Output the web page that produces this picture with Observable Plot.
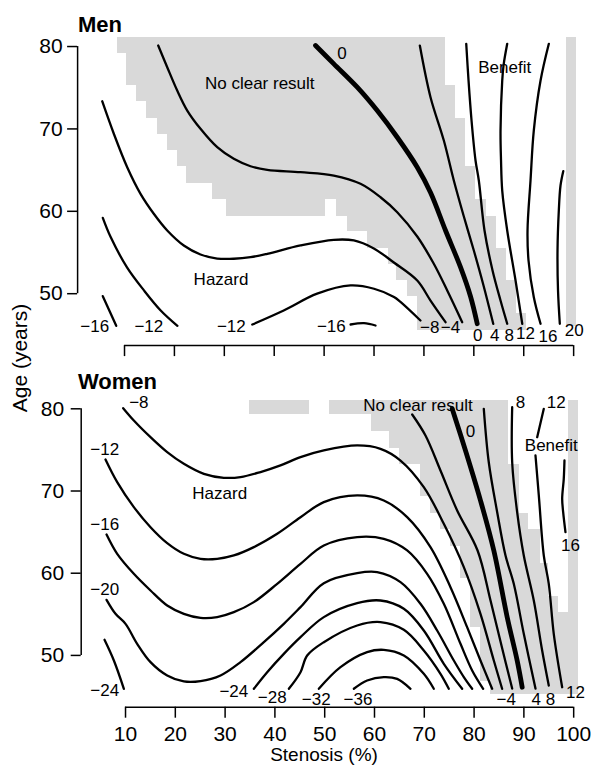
<!DOCTYPE html>
<html><head><meta charset="utf-8">
<script src="https://cdn.jsdelivr.net/npm/d3@7"></script>
<script src="https://cdn.jsdelivr.net/npm/@observablehq/plot@0.6"></script>
<style>
body{margin:0;background:#fff;}
#wrap{position:relative;width:593px;height:765px;font-family:"Liberation Sans",Arial,sans-serif;color:#000;overflow:hidden;}
#wrap svg{position:absolute;left:0;}
.t{position:absolute;white-space:nowrap;line-height:1;}
g[aria-label$="-axis tick"] path{stroke-width:1.5px;}
</style></head><body><div id="wrap"></div>
<script>
// ---------- ticks ----------
const xTicks = [10,20,30,40,50,60,70,80,90,100];
const yTicks = [50,60,70,80];

// ---------- Men: contour lines [stenosis %, age] ----------
const men_m16a = [[5.65,49.7],[7.0,47.9],[8.34,46.1]];
const men_m12a = [[5.65,59.2],[7.2,56.9],[10.5,53.2],[13.9,50.4],[17.2,48.0],[20.6,46.1]];
const men_m12b = [[35.6,46.26],[41.9,47.96],[48.6,50.0],[55.3,51.0],[60.0,50.6],[64.0,49.6],[65.3,49.0],[69.3,46.75]];
const men_m16b = [[55.3,46.26],[58.0,46.42],[60.3,46.14]];
const men_m8 = [[5.53,73.36],[7.86,69.41],[10.54,65.35],[13.21,62.12],[15.87,59.7],[18.56,57.67],[21.88,55.85],[25.23,54.76],[28.58,54.27],[31.9,54.24],[35.25,54.43],[38.6,54.84],[45.27,55.85],[51.94,56.54],[55.95,56.46],[59.96,55.49],[63.97,53.79],[68.66,51.6],[71.32,49.17],[74.33,46.54]];
const men_m4 = [[16.75,80.12],[18.56,77.49],[20.56,74.66],[22.57,72.23],[25.23,70.01],[28.58,67.78],[31.9,66.37],[35.25,65.47],[38.6,65.04],[45.27,64.75],[51.94,64.34],[57.29,63.34],[61.3,61.71],[64.65,59.89],[68.66,56.94],[71.98,53.63],[74.67,50.39],[77.67,46.54]];
const men_0 = [[48.28,80.12],[51.94,77.9],[56.63,75.07],[60.64,72.23],[64.65,68.99],[68.66,65.35],[71.32,62.28],[74.33,57.67],[77.33,53.22],[79.34,49.66],[80.68,46.35]];
const men_4 = [[69.18,80.12],[71.32,73.85],[73.99,68.59],[75.99,63.74],[77.94,59.49],[80.0,55.24],[81.94,51.0],[83.89,46.35]];
const men_8 = [[78.48,80.33],[78.94,75.87],[79.54,71.02],[80.34,66.17],[81.0,63.74],[82.14,57.67],[83.75,52.82],[85.35,49.17],[86.69,46.35]];
const men_12 = [[86.69,80.33],[85.95,77.69],[85.69,75.87],[85.35,69.81],[85.45,66.17],[85.69,62.52],[86.69,57.67],[88.36,51.6],[89.7,46.35]];
const men_16 = [[95.03,80.33],[93.37,75.87],[92.02,69.81],[91.36,63.74],[90.76,57.67],[90.96,54.03],[92.02,49.58],[93.37,46.35]];
const men_20 = [[97.92,64.87],[97.37,63.13],[97.03,60.1],[96.77,55.24],[96.87,50.39],[97.23,46.35]];

// Men "no clear result" cells: [age top, age bottom, stenosis left, stenosis right]
const menGray = [
  [81.1,79.1,8.5,74.3],[79.1,75.3,10.3,74.3],[75.3,73.3,12.5,76.3],[73.3,71.3,14.5,76.3],
  [71.3,69.3,16.7,78.3],[69.3,67.4,18.7,78.3],[67.4,65.4,20.6,78.3],[65.4,63.4,22.4,80.4],
  [63.4,61.4,27.6,80.4],[61.4,59.4,30.4,50.3],[61.4,59.4,52.5,82.5],[59.4,57.5,54.6,84.6],
  [57.5,55.5,58.6,84.6],[55.5,53.6,63.0,86.6],[53.6,51.6,64.6,86.6],[51.6,49.6,66.7,88.6],
  [49.6,47.6,68.7,88.6],[47.6,45.5,68.7,90.6],[81.1,46.0,98.6,100.5]
];
// Men labels [stenosis, age, text]
const menLabels = [
  [4.03,46.0,"−16"],[14.87,46.0,"−12"],[31.4,46.0,"−12"],[51.45,46.0,"−16"],
  [71.16,45.94,"−8"],[75.33,45.94,"−4"],[80.78,44.93,"0"],[84.19,44.93,"4"],
  [87.1,44.93,"8"],[90.36,45.13,"12"],[94.87,44.83,"16"],[100.12,45.53,"20"],
  [53.6,79.2,"0"],[37.1,75.55,"No clear result"],[86.19,77.49,"Benefit"],[29.34,51.75,"Hazard"]
];

// ---------- Women: contour lines ----------
const wom_m24a = [[5.78,51.9],[7.66,49.38],[9.67,45.94]];
const wom_m20 = [[6.19,56.76],[7.99,55.06],[10.0,53.84],[12.34,51.41],[15.02,49.18],[18.37,47.56],[21.71,46.83],[25.06,46.87],[29.08,47.56],[33.09,49.18],[37.78,51.61],[41.79,53.84],[45.14,55.87],[49.82,58.79],[56.52,60.01],[60.53,60.13],[65.22,58.91],[69.23,56.28],[72.58,53.03],[75.93,49.38],[77.94,47.36],[79.61,45.94]];
const wom_m16 = [[6.19,64.71],[8.33,62.36],[11.67,59.93],[15.02,57.9],[18.37,56.07],[21.71,55.06],[25.06,54.57],[28.41,54.66],[31.75,55.26],[35.77,56.48],[40.46,58.71],[45.14,61.14],[49.82,63.37],[56.52,64.39],[61.87,64.18],[66.56,62.77],[70.57,59.93],[73.92,56.28],[77.27,51.41],[79.61,48.17],[81.82,45.94]];
const wom_m12 = [[5.98,73.84],[8.33,71.08],[11.67,68.04],[15.02,65.6],[18.37,63.66],[21.71,62.36],[25.06,61.75],[28.41,61.75],[31.75,62.16],[35.77,63.17],[40.46,64.79],[45.14,66.8],[49.82,68.65],[56.52,69.46],[61.87,68.85],[66.56,66.82],[71.24,63.17],[75.26,58.3],[78.6,53.44],[81.28,49.38],[83.62,45.94]];
const wom_m8 = [[9.53,80.08],[11.67,78.58],[15.02,76.55],[18.37,74.73],[21.71,73.31],[25.73,72.09],[29.75,71.61],[33.09,71.69],[37.11,72.3],[41.12,73.11],[45.14,74.12],[49.82,74.93],[56.52,75.54],[61.2,75.13],[65.22,73.71],[69.9,70.47],[73.92,66.01],[77.94,60.74],[81.28,55.06],[83.96,49.38],[85.63,45.94]];
const wom_m24 = [[35.77,45.94],[38.45,47.96],[41.79,50.19],[45.14,52.22],[49.82,54.66],[56.52,56.36],[61.2,56.68],[65.89,55.67],[69.9,53.03],[73.92,48.98],[77.6,45.94]];
const wom_m28 = [[42.8,45.94],[45.14,47.96],[46.48,49.99],[49.82,51.61],[56.52,53.64],[61.2,54.05],[65.89,53.11],[69.9,50.6],[73.25,47.76],[74.92,45.94]];
const wom_m32 = [[48.82,45.94],[53.17,48.57],[58.52,50.4],[61.87,50.68],[65.89,49.99],[69.9,47.76],[71.91,45.94]];
const wom_m36 = [[55.85,45.94],[58.52,46.95],[61.87,47.36],[64.55,47.15],[67.23,45.94]];
const wom_m4 = [[67.57,79.31],[70.24,76.75],[73.25,72.49],[76.6,67.63],[80.7,62.76],[83.3,56.68],[85.5,51.2],[87.65,45.97]];
const wom_0 = [[75.6,80.0],[78.27,74.93],[81.29,68.84],[83.96,62.76],[86.65,54.65],[88.65,49.38],[89.66,46.13]];
const wom_4 = [[81.95,80.0],[82.95,73.5],[84.64,67.42],[86.31,62.15],[87.97,58.71],[89.98,52.63],[92.33,45.97]];
const wom_8 = [[87.65,80.19],[87.65,73.5],[88.65,67.42],[89.98,62.15],[91.99,56.68],[93.67,50.6],[95.0,46.34]];
const wom_12a = [[94.0,80.0],[92.67,76.55]];
const wom_12b = [[92.33,74.32],[93.0,69.45],[94.0,62.15],[95.0,58.71],[96.0,52.63],[97.69,46.13]];
const wom_16 = [[98.15,73.71],[98.01,71.48],[97.69,69.05],[97.89,67.42],[98.35,64.99]];

const womGray = [
  [81.0,79.3,34.9,46.9],[81.0,79.3,51.0,87.0],[79.3,77.3,59.3,87.0],[77.3,75.2,63.1,87.0],
  [75.2,73.2,65.1,87.0],[73.2,69.3,69.2,89.2],[69.3,67.3,71.2,89.2],[67.3,65.3,73.3,91.0],
  [65.3,63.3,75.3,93.3],[63.3,61.2,77.3,93.3],[61.2,59.4,77.3,95.0],[59.4,57.2,79.3,95.0],
  [57.2,55.2,79.3,97.0],[55.2,53.4,79.3,101.0],[53.4,46.8,81.3,101.0],[46.8,45.3,83.3,101.0],
  [81.0,55.2,99.0,101.0]
];
const womLabels = [
  [12.67,80.8,"−8"],[5.82,75.02,"−12"],[5.82,65.9,"−16"],[5.82,58.0,"−20"],[5.82,45.73,"−24"],
  [31.75,45.63,"−24"],[39.46,44.82,"−28"],[48.31,44.63,"−32"],[56.69,44.63,"−36"],
  [86.47,44.63,"−4"],[92.5,44.63,"4"],[95.34,44.63,"8"],[100.36,45.43,"12"],
  [79.28,77.18,"0"],[89.32,80.8,"8"],[96.5,80.8,"12"],[99.36,63.37,"16"],
  [68.73,80.37,"No clear result"],[95.5,75.54,"Benefit"],[28.92,69.66,"Hazard"]
];

function toRows(lines){
  const out=[];
  lines.forEach((pts,i)=>pts.forEach(p=>out.push({s:p[0],age:p[1],id:i})));
  return out;
}

function panel(o){
  return Plot.plot({
    width:593, height:o.height,
    marginLeft:o.ml, marginRight:o.mr, marginTop:o.mt, marginBottom:o.mb,
    x:{domain:o.xd, ticks:xTicks, tickSize:11, tickPadding:8, tickFormat:o.xfmt, label:null},
    y:{domain:[43.7,81.4], ticks:yTicks, tickSize:10, tickPadding:o.yp, label:null},
    style:{fontFamily:'"Liberation Sans",Arial,sans-serif', fontSize:"21px", background:"transparent", color:"#000", overflow:"visible"},
    marks:[
      Plot.rect(o.gray,{x1:d=>d[2],x2:d=>d[3],y1:d=>d[1],y2:d=>d[0],fill:"#d9d9d9",shapeRendering:"crispEdges"}),
      Plot.line(toRows(o.thin),{x:"s",y:"age",z:"id",stroke:"#000",strokeWidth:2.3,curve:"catmull-rom"}),
      Plot.line(toRows(o.thick),{x:"s",y:"age",z:"id",stroke:"#000",strokeWidth:4.8,curve:"catmull-rom"}),
      Plot.text(o.labels,{x:d=>d[0],y:d=>d[1],text:d=>d[2],fontSize:17,fill:"#000"}),
      Plot.ruleX([o.xd[0]],{y1:50,y2:80,stroke:"#000",strokeWidth:1.5}),
      Plot.ruleY([43.7],{x1:10,x2:100,stroke:"#000",strokeWidth:1.5})
    ]
  });
}

const wrap=document.getElementById("wrap");
const men = panel({height:360, ml:77.1, mr:0.9, mt:34.5, mb:14.9, xd:[0.6,103.8], xfmt:()=>"", yp:5,
  gray:menGray, labels:menLabels,
  thin:[men_m16a,men_m12a,men_m12b,men_m16b,men_m8,men_m4,men_4,men_8,men_12,men_16,men_20],
  thick:[men_0]});
men.style.top="0px";
wrap.appendChild(men);

const wom = panel({height:405, ml:80.7, mr:0.9, mt:36.8, mb:58.3, xd:[1.1,103.8], xfmt:d=>d, yp:7,
  gray:womGray, labels:womLabels,
  thin:[wom_m24a,wom_m20,wom_m16,wom_m12,wom_m8,wom_m24,wom_m28,wom_m32,wom_m36,wom_m4,wom_4,wom_8,wom_12a,wom_12b,wom_16],
  thick:[wom_0]});
wom.style.top="360px";
wrap.appendChild(wom);

function addText(txt, css){
  const d=document.createElement("div");
  d.className="t"; d.textContent=txt;
  Object.assign(d.style, css);
  wrap.appendChild(d);
}
addText("Men",{left:"78px",top:"14px",fontSize:"22px",fontWeight:"bold"});
addText("Women",{left:"78px",top:"371px",fontSize:"22px",fontWeight:"bold"});
addText("Stenosis (%)",{left:"324px",top:"745.3px",fontSize:"19px",transform:"translateX(-50%)"});
addText("Age (years)",{left:"19px",top:"358px",fontSize:"21px",transform:"translate(-50%,-50%) rotate(-90deg)"});
</script></body></html>
